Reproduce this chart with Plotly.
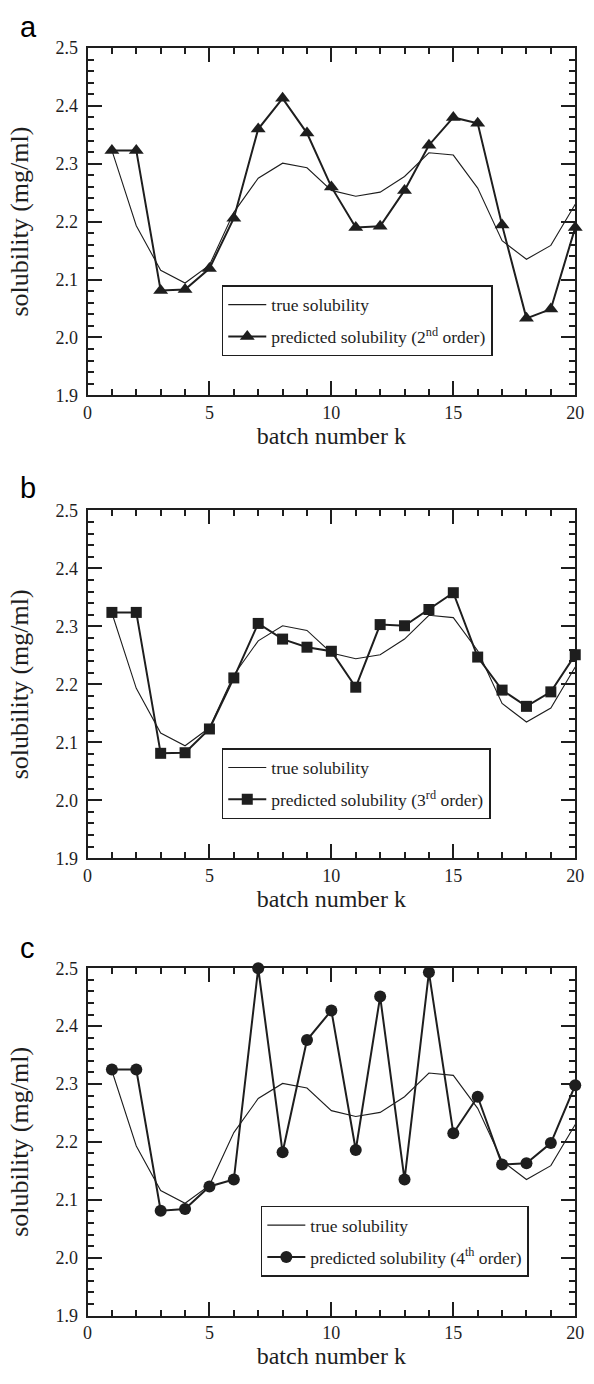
import plotly.graph_objects as go

# ---------------- data ----------------
k = list(range(1, 21))

true_solubility = [2.323, 2.193, 2.116, 2.094, 2.125, 2.216, 2.275, 2.301, 2.293, 2.254,
                   2.244, 2.251, 2.278, 2.319, 2.315, 2.258, 2.167, 2.135, 2.159, 2.230]

pred_2nd = [2.323, 2.323, 2.081, 2.083, 2.119, 2.206, 2.360, 2.413, 2.353, 2.260,
            2.190, 2.192, 2.254, 2.332, 2.380, 2.370, 2.194, 2.033, 2.049, 2.190]

pred_3rd = [2.324, 2.324, 2.081, 2.082, 2.123, 2.211, 2.305, 2.278, 2.264, 2.257,
            2.195, 2.303, 2.301, 2.329, 2.358, 2.247, 2.190, 2.162, 2.187, 2.251]

pred_4th = [2.325, 2.325, 2.081, 2.084, 2.123, 2.135, 2.500, 2.182, 2.376, 2.427,
            2.186, 2.451, 2.135, 2.493, 2.215, 2.278, 2.161, 2.163, 2.198, 2.298]

panel_labels = ["a", "b", "c"]
pred_names = ["predicted solubility (2<sup>nd</sup> order)",
              "predicted solubility (3<sup>rd</sup> order)",
              "predicted solubility (4<sup>th</sup> order)"]
pred_series = [pred_2nd, pred_3rd, pred_4th]
marker_symbols = ["triangle-up", "square", "circle"]
marker_sizes = [13, 11, 12]

x_range = [0, 20]
y_range = [1.9, 2.5]
x_major_step, x_minor_step = 5, 1
y_major_step, y_minor_step = 0.1, 0.02

# ---------------- layout geometry ----------------
W, H = 594, 1384
x_dom = [84.5 / W, 584 / W]
panels_px = [(38.5, 391.0), (507.7, 860.7), (972.3, 1324.7)]   # top, bottom
legend_px = [(222, 279.3), (222, 749.0), (262, 1213.3)]         # left, top
label_px = [(13, 17), (13, 485), (13, 952)]

SERIF = "Liberation Serif"
INK = "#1e1e1e"

fig = go.Figure()
layout = dict(
    width=W, height=H,
    margin=dict(l=0, r=0, t=0, b=0),
    paper_bgcolor="white", plot_bgcolor="white",
    showlegend=True,
    font=dict(family=SERIF, color=INK),
    annotations=[],
)

for i in range(3):
    sfx = "" if i == 0 else str(i + 1)
    xa, ya = "x" + sfx, "y" + sfx
    leg = "legend" + sfx

    fig.add_trace(go.Scatter(
        x=k, y=true_solubility, mode="lines", name="true solubility",
        line=dict(color=INK, width=1.1), xaxis=xa, yaxis=ya,
        legend=leg, legendgroup="t" + sfx, showlegend=True))
    fig.add_trace(go.Scatter(
        x=k, y=pred_series[i], mode="lines+markers", name=pred_names[i],
        line=dict(color=INK, width=2),
        marker=dict(symbol=marker_symbols[i], size=marker_sizes[i], color=INK),
        cliponaxis=False, xaxis=xa, yaxis=ya,
        legend=leg, legendgroup="p" + sfx, showlegend=True))

    top, bot = panels_px[i]
    y_dom = [1 - bot / H, 1 - top / H]

    layout["xaxis" + sfx] = dict(
        domain=x_dom, anchor=ya, range=x_range,
        showline=True, linewidth=2, linecolor=INK, mirror="allticks",
        ticks="inside", ticklen=14, tickwidth=2, tickcolor=INK,
        showgrid=False, zeroline=False,
        tick0=0, dtick=x_major_step,
        tickfont=dict(family=SERIF, size=18, color=INK),
        minor=dict(ticks="inside", ticklen=6, tickwidth=2, tickcolor=INK,
                   dtick=x_minor_step, showgrid=False),
        title=dict(text="batch number k", font=dict(family=SERIF, size=24, color=INK), standoff=2),
    )
    layout["yaxis" + sfx] = dict(
        domain=y_dom, anchor=xa, range=y_range,
        showline=True, linewidth=2, linecolor=INK, mirror="allticks",
        ticks="inside", ticklen=14, tickwidth=2, tickcolor=INK,
        showgrid=False, zeroline=False,
        tick0=1.9, dtick=y_major_step, tickformat=".1f",
        ticklabelstandoff=4,
        tickfont=dict(family=SERIF, size=18, color=INK),
        minor=dict(ticks="inside", ticklen=6, tickwidth=2, tickcolor=INK,
                   dtick=y_minor_step, showgrid=False),
        title=dict(text="solubility (mg/ml)", font=dict(family=SERIF, size=26, color=INK), standoff=19),
    )

    lx, ly = legend_px[i]
    layout[leg] = dict(
        x=lx / W, y=1 - ly / H, xanchor="left", yanchor="top",
        bgcolor="white", bordercolor=INK, borderwidth=1.5,
        font=dict(family=SERIF, size=17.5, color=INK),
        traceorder="grouped", tracegroupgap=6, itemwidth=38,
    )

    px, py = label_px[i]
    layout["annotations"].append(dict(
        text=panel_labels[i], x=px / W, y=1 - py / H, xref="paper", yref="paper",
        xanchor="left", yanchor="middle", showarrow=False,
        font=dict(family="Liberation Sans", size=29, color="black")))

fig.update_layout(**layout)
fig.write_html("out.html", config={"displayModeBar": False},
               post_script="document.body.style.margin='0';document.body.style.overflow='hidden';")
